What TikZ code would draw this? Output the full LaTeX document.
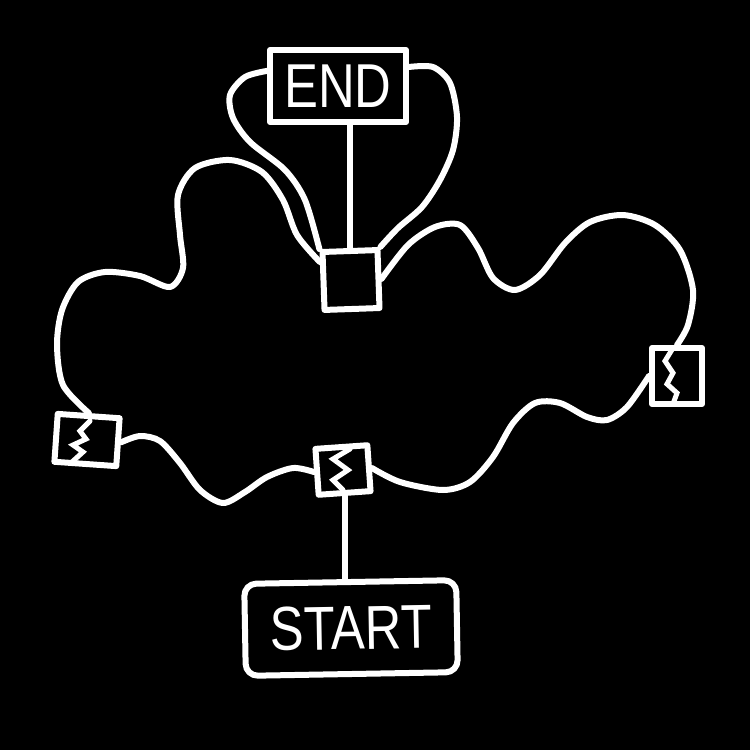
\documentclass[tikz,border=0pt]{standalone}
\usepackage{fontspec}
\setmainfont{Liberation Sans}

\begin{document}
\begin{tikzpicture}[x=1pt, y=-1pt,
  wire/.style={draw=white, line width=6, line cap=round, line join=round},
  box/.style={wire, rectangle, inner sep=0, text=white, font=\fontsize{62}{62}\selectfont},
  zig/.style={draw=white, line width=5, line cap=round, line join=miter}]
\fill[black] (0,0) rectangle (750,750);
\node[box, minimum width=136, minimum height=72] (endbox) at (338,86) {\scalebox{0.82}[1]{END}};
\node[box, minimum width=55, minimum height=58, rotate=2] (hub) at (351,280) {};
\node[box, minimum width=62, minimum height=48, rotate=-4] (leftbox) at (87,440) {};
\node[box, minimum width=52, minimum height=46, rotate=4] (midbox) at (343,470) {};
\node[box, minimum width=50, minimum height=56] (rightbox) at (677,376) {};
\node[box, minimum width=212, minimum height=92, rounded corners=12, rotate=1] (startbox) at (351,628) {\scalebox{0.82}[1]{START}};
\draw[zig] ([shift={(3,-19)}]leftbox.center) -- ++(-10,10) -- ++(6,8) -- ++(-13,6) -- ++(10,7) -- ++(-11,10);
\draw[zig] ([shift={(7,-21)}]midbox.center) -- ++(-17,10) -- ++(15,11) -- ++(-15,10) -- ++(10,10);
\draw[zig] ([shift={(-4,-28)}]rightbox.center) -- ++(-8,13) -- ++(8,12) -- ++(-6,11) -- ++(10,9) -- ++(-4,11);
\draw[wire] (hub.north |- endbox.south) -- (hub.north);
\draw[wire] (midbox.south) -- (midbox.south |- startbox.north);
\draw[wire] plot[smooth] coordinates {(endbox.168) (245,77) (230,95) (233,118) (250,142) (285,170) (305,200) (hub.north west)};
\draw[wire] plot[smooth] coordinates {(endbox.15) (433,67) (450,83) (457,117) (453,150) (440,180) (422,207) (398,228) (hub.north east)};
\draw[wire] plot[smooth] coordinates {(hub.148) (297,235) (283,200) (262,172) (230,160) (195,168) (178,195) (180,235) (183,268) (170,287) (140,276) (105,272) (78,282) (62,310) (57,345) (63,385) (leftbox.north)};
\draw[wire] plot[smooth] coordinates {(leftbox.east) (140,436) (160,441) (180,463) (200,490) (223,503) (245,492) (267,477) (293,468) (midbox.west)};
\draw[wire] plot[smooth] coordinates {(midbox.east) (400,482) (443,490) (470,482) (493,457) (513,423) (535,403) (560,403) (587,417) (607,420) (627,407) (rightbox.west)};
\draw[wire] plot[smooth] coordinates {(rightbox.north) (688,325) (693,290) (680,250) (655,225) (623,215) (590,222) (565,243) (540,275) (515,290) (493,278) (478,248) (460,225) (435,227) (408,245) (hub.east)};
\end{tikzpicture}
\end{document}
